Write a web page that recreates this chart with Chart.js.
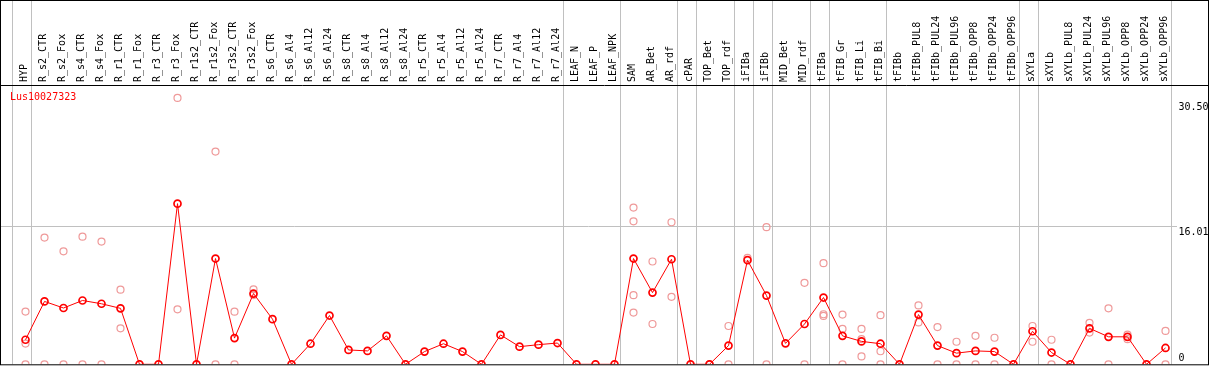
<!DOCTYPE html>
<html lang="en">
<head>
    <meta charset="UTF-8">
    <title>Lus10027323</title>
    <script src="https://cdn.jsdelivr.net/npm/chart.js"></script>
    <style>
        body { margin: 0; background: #fff; }
        #wrap { width: 1209px; height: 370px; position: relative; }
    </style>
</head>
<body>
<div id="wrap">
    <canvas id="geneChart"></canvas>
</div>
<script>
    // sample names along the top
    var categories = ['HYP', 'R_s2_CTR', 'R_s2_Fox', 'R_s4_CTR', 'R_s4_Fox', 'R_r1_CTR', 'R_r1_Fox', 'R_r3_CTR', 'R_r3_Fox',
        'R_r1s2_CTR', 'R_r1s2_Fox', 'R_r3s2_CTR', 'R_r3s2_Fox', 'R_s6_CTR', 'R_s6_Al4', 'R_s6_Al12', 'R_s6_Al24',
        'R_s8_CTR', 'R_s8_Al4', 'R_s8_Al12', 'R_s8_Al24', 'R_r5_CTR', 'R_r5_Al4', 'R_r5_Al12', 'R_r5_Al24',
        'R_r7_CTR', 'R_r7_Al4', 'R_r7_Al12', 'R_r7_Al24', 'LEAF_N', 'LEAF_P', 'LEAF_NPK', 'SAM', 'AR_Bet', 'AR_rdf',
        'cPAR', 'TOP_Bet', 'TOP_rdf', 'iFIBa', 'iFIBb', 'MID_Bet', 'MID_rdf', 'tFIBa', 'tFIB_Gr', 'tFIB_Li', 'tFIB_Bi',
        'tFIBb', 'tFIBb_PUL8', 'tFIBb_PUL24', 'tFIBb_PUL96', 'tFIBb_OPP8', 'tFIBb_OPP24', 'tFIBb_OPP96',
        'sXYLa', 'sXYLb', 'sXYLb_PUL8', 'sXYLb_PUL24', 'sXYLb_PUL96', 'sXYLb_OPP8', 'sXYLb_OPP24', 'sXYLb_OPP96'];

    // mean expression per sample
    var meanValues = [2.84, 7.27, 6.51, 7.38, 7.0, 6.47, 0, 0, 18.58,
        0, 12.23, 3.03, 8.18, 5.22, 0, 2.38, 5.64,
        1.66, 1.55, 3.29, 0, 1.47, 2.38, 1.47, 0,
        3.4, 2.04, 2.27, 2.46, 0, 0, 0, 12.23, 8.29, 12.15,
        0, 0, 2.16, 12.04, 7.95, 2.42, 4.66, 7.72, 3.29, 2.65, 2.38,
        0, 5.75, 2.16, 1.29, 1.55, 1.47, 0,
        3.82, 1.36, 0, 4.16, 3.18, 3.18, 0, 1.89];

    // single replicates per sample (pale circles)
    var replicates = [[6.1, 2.4, 0], [14.65, 0], [13.06, 0], [14.76, 0], [14.19, 0], [8.63, 4.16], [], [], [30.8, 6.36],
        [], [24.6, 0], [6.09, 0], [8.67, 8.0], [], [], [], [],
        [], [], [], [], [], [], [], [],
        [], [], [], [], [], [], [], [18.13, 16.54, 7.99, 5.98], [11.89, 4.66], [16.43, 7.8],
        [], [0], [4.43, 0], [12.3], [15.86, 0], [], [9.42, 0], [11.7, 5.79, 5.6], [5.75, 4.09, 0], [4.09, 2.91, 0.91], [5.68, 1.51, 0],
        [], [6.81, 4.84], [4.31, 0], [2.61, 0], [3.29, 0], [3.07, 0], [],
        [4.43, 2.61], [2.84, 0], [], [4.8, 3.67], [6.47, 0], [3.44, 2.91], [], [3.86, 0]];

    // how many samples in each tissue group (separator after each)
    var groupSizes = [1, 28, 3, 3, 1, 2, 1, 1, 2, 1, 3, 7, 1, 7];

    var yTicks = [0, 16.01, 30.50];
    var yTickLabels = ['0', '16.01', '30.50'];
    var yMax = 32.3;
    var geneName = 'Lus10027323';

    var monoFont = { family: 'DejaVu Sans Mono', size: 10 };

    var repPoints = [];
    replicates.forEach(function (reps, i) {
        reps.forEach(function (v) {
            repPoints.push({ x: categories[i], y: v });
        });
    });

    var framePlugin = {
        id: 'framePlugin',
        beforeDatasetsDraw: function (chart) {
            var ctx = chart.ctx, area = chart.chartArea;
            var x = chart.scales.x, y = chart.scales.y;
            ctx.save();
            ctx.strokeStyle = '#c0c0c0';
            ctx.lineWidth = 1;
            ctx.beginPath();
            // separators between groups
            var idx = -1;
            var ends = [idx];
            groupSizes.forEach(function (n) { idx += n; ends.push(idx); });
            ends.forEach(function (b) {
                var px = Math.round(x.getPixelForValue(b) + 5) + 0.5;
                ctx.moveTo(px, 0);
                ctx.lineTo(px, area.bottom);
            });
            // middle grid line
            var py = Math.round(y.getPixelForValue(yTicks[1])) + 0.5;
            ctx.moveTo(0, py);
            ctx.lineTo(area.right + 2, py);
            ctx.stroke();
            ctx.restore();
        },
        afterDraw: function (chart) {
            var ctx = chart.ctx, area = chart.chartArea;
            var y = chart.scales.y;
            ctx.save();
            ctx.strokeStyle = '#000';
            ctx.lineWidth = 1;
            ctx.beginPath();
            ctx.moveTo(0, area.top + 0.5);
            ctx.lineTo(chart.width, area.top + 0.5);
            ctx.stroke();
            ctx.strokeRect(0.5, 0.5, chart.width - 1, area.bottom);

            ctx.font = '10px "DejaVu Sans Mono"';
            ctx.fillStyle = '#ff0000';
            ctx.textBaseline = 'middle';
            ctx.textAlign = 'left';
            ctx.fillText(geneName, area.left - 6, area.top + 12);

            // value labels on the right
            ctx.fillStyle = '#000';
            ctx.textBaseline = 'top';
            yTicks.forEach(function (v, i) {
                var ty = Math.min(y.getPixelForValue(v) + 2, area.bottom - 11);
                ctx.fillText(yTickLabels[i], area.right + 3.5, ty);
            });
            ctx.restore();
        }
    };

    var geneChart = new Chart(document.getElementById('geneChart').getContext('2d'), {
        type: 'line',
        data: {
            labels: categories,
            datasets: [{
                label: 'mean',
                data: meanValues,
                borderColor: '#ff0000',
                borderWidth: 1,
                tension: 0,
                pointStyle: 'circle',
                pointRadius: 3.5,
                pointBorderWidth: 1.7,
                pointBorderColor: '#ff0000',
                pointBackgroundColor: 'rgba(0,0,0,0)',
                order: 0
            }, {
                label: 'replicates',
                data: repPoints,
                showLine: false,
                pointStyle: 'circle',
                pointRadius: 3.5,
                pointBorderWidth: 1.2,
                pointBorderColor: '#ef9a9a',
                pointBackgroundColor: 'rgba(0,0,0,0)',
                order: 1
            }]
        },
        options: {
            responsive: true,
            maintainAspectRatio: false,
            animation: false,
            layout: { padding: { left: 16, right: 0, top: 0, bottom: 1 } },
            plugins: {
                legend: { display: false },
                tooltip: { enabled: false }
            },
            scales: {
                x: {
                    type: 'category',
                    position: 'top',
                    offset: true,
                    grid: { display: false, drawTicks: false, tickLength: 0 },
                    border: { display: false },
                    ticks: {
                        autoSkip: false,
                        maxRotation: 90,
                        minRotation: 90,
                        padding: 3,
                        labelOffset: 11,
                        color: '#000',
                        font: monoFont
                    },
                    afterFit: function (scale) { scale.height = 85; }
                },
                y: {
                    position: 'right',
                    min: 0,
                    max: yMax,
                    grid: { display: false },
                    border: { display: false },
                    ticks: { display: false },
                    afterBuildTicks: function (scale) {
                        scale.ticks = yTicks.map(function (v) { return { value: v }; });
                    },
                    afterFit: function (scale) { scale.width = 34; }
                }
            }
        },
        plugins: [framePlugin]
    });
</script>
</body>
</html>
